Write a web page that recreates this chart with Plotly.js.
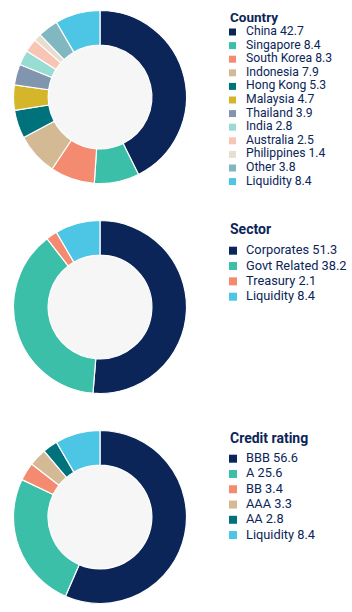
<!DOCTYPE html>
<html>
<head>
<meta charset="utf-8">
<script src="https://cdn.plot.ly/plotly-3.0.1.min.js"></script>
<style>html,body{margin:0;padding:0;background:#fff;}#chart{width:352px;height:612px;}</style>
</head>
<body>
<div id="chart"></div>
<script>
// ---- data ----
const countryLabels = ["China","Singapore","South Korea","Indonesia","Hong Kong","Malaysia","Thailand","India","Australia","Philippines","Other","Liquidity"];
const countryValues = [42.7,8.4,8.3,7.9,5.3,4.7,3.9,2.8,2.5,1.4,3.8,8.4];
const countryColors = ["#0b2559","#3cbfa8","#f48a70","#d4b995","#00727c","#d5b52a","#8295ae","#97ddd3","#f8c4b4","#e9ddd0","#80b7c1","#4cc6e4"];

const sectorLabels = ["Corporates","Govt Related","Treasury","Liquidity"];
const sectorValues = [51.3,38.2,2.1,8.4];
const sectorColors = ["#0b2559","#3cbfa8","#f48a70","#4cc6e4"];

const ratingLabels = ["BBB","A","BB","AAA","AA","Liquidity"];
const ratingValues = [56.6,25.6,3.4,3.3,2.8,8.4];
const ratingColors = ["#0b2559","#3cbfa8","#f48a70","#d4b995","#00727c","#4cc6e4"];

const titles = ["Country","Sector","Credit rating"];

// ---- layout helpers ----
const W = 352, H = 612;
const px = x => x / W;
const py = y => 1 - y / H;
const textColor = "#0b2559";
const fontFamily = "Roboto, 'Noto Sans', sans-serif";

const groups = [
  {labels: countryLabels, values: countryValues, colors: countryColors, title: titles[0],
   cy: 97, titleY: 17, firstY: 31, step: 13.6, fs: 12.2, tfs: 13.5, sq: 7},
  {labels: sectorLabels, values: sectorValues, colors: sectorColors, title: titles[1],
   cy: 307, titleY: 229, firstY: 249.7, step: 15.33, fs: 12.8, tfs: 14, sq: 8},
  {labels: ratingLabels, values: ratingValues, colors: ratingColors, title: titles[2],
   cy: 517, titleY: 438.3, firstY: 457.7, step: 15.27, fs: 12.8, tfs: 14, sq: 8}
];
const cx = 100, R = 86.5, holeFrac = 0.6;

const data = [];
const shapes = [];
const annotations = [];

groups.forEach(g => {
  data.push({
    type: "pie",
    labels: g.labels,
    values: g.values,
    marker: {colors: g.colors, line: {color: "#ffffff", width: 1.2}},
    hole: holeFrac,
    sort: false,
    direction: "clockwise",
    rotation: 0,
    textinfo: "none",
    hoverinfo: "label+value",
    showlegend: false,
    domain: {x: [px(cx - R), px(cx + R)], y: [py(g.cy + R), py(g.cy - R)]}
  });
  const hr = R * holeFrac + 1;
  shapes.push({type: "circle", xref: "paper", yref: "paper", layer: "below",
    x0: px(cx - hr), x1: px(cx + hr), y0: py(g.cy + hr), y1: py(g.cy - hr),
    fillcolor: "#f6f6f7", line: {width: 0}});
  annotations.push({xref: "paper", yref: "paper", x: px(228), y: py(g.titleY),
    xanchor: "left", yanchor: "middle", showarrow: false, text: "<b>" + g.title + "</b>",
    font: {family: fontFamily, size: g.tfs, color: textColor, weight: 700}});
  g.labels.forEach((lab, i) => {
    const yc = g.firstY + i * g.step;
    annotations.push({xref: "paper", yref: "paper", x: px(244), y: py(yc),
      xanchor: "left", yanchor: "middle", showarrow: false,
      text: lab + " " + g.values[i].toFixed(1),
      font: {family: fontFamily, size: g.fs, color: textColor}});
    shapes.push({type: "rect", xref: "paper", yref: "paper", layer: "above",
      x0: px(229), x1: px(229 + g.sq), y0: py(yc + 1 + g.sq / 2), y1: py(yc + 1 - g.sq / 2),
      fillcolor: g.colors[i], line: {width: 0}});
  });
});

const layout = {
  width: W, height: H,
  margin: {l: 0, r: 0, t: 0, b: 0},
  paper_bgcolor: "#ffffff",
  plot_bgcolor: "#ffffff",
  shapes: shapes,
  annotations: annotations,
  font: {family: fontFamily, color: textColor}
};

Plotly.newPlot("chart", data, layout, {displayModeBar: false, staticPlot: true});
</script>
</body>
</html>
